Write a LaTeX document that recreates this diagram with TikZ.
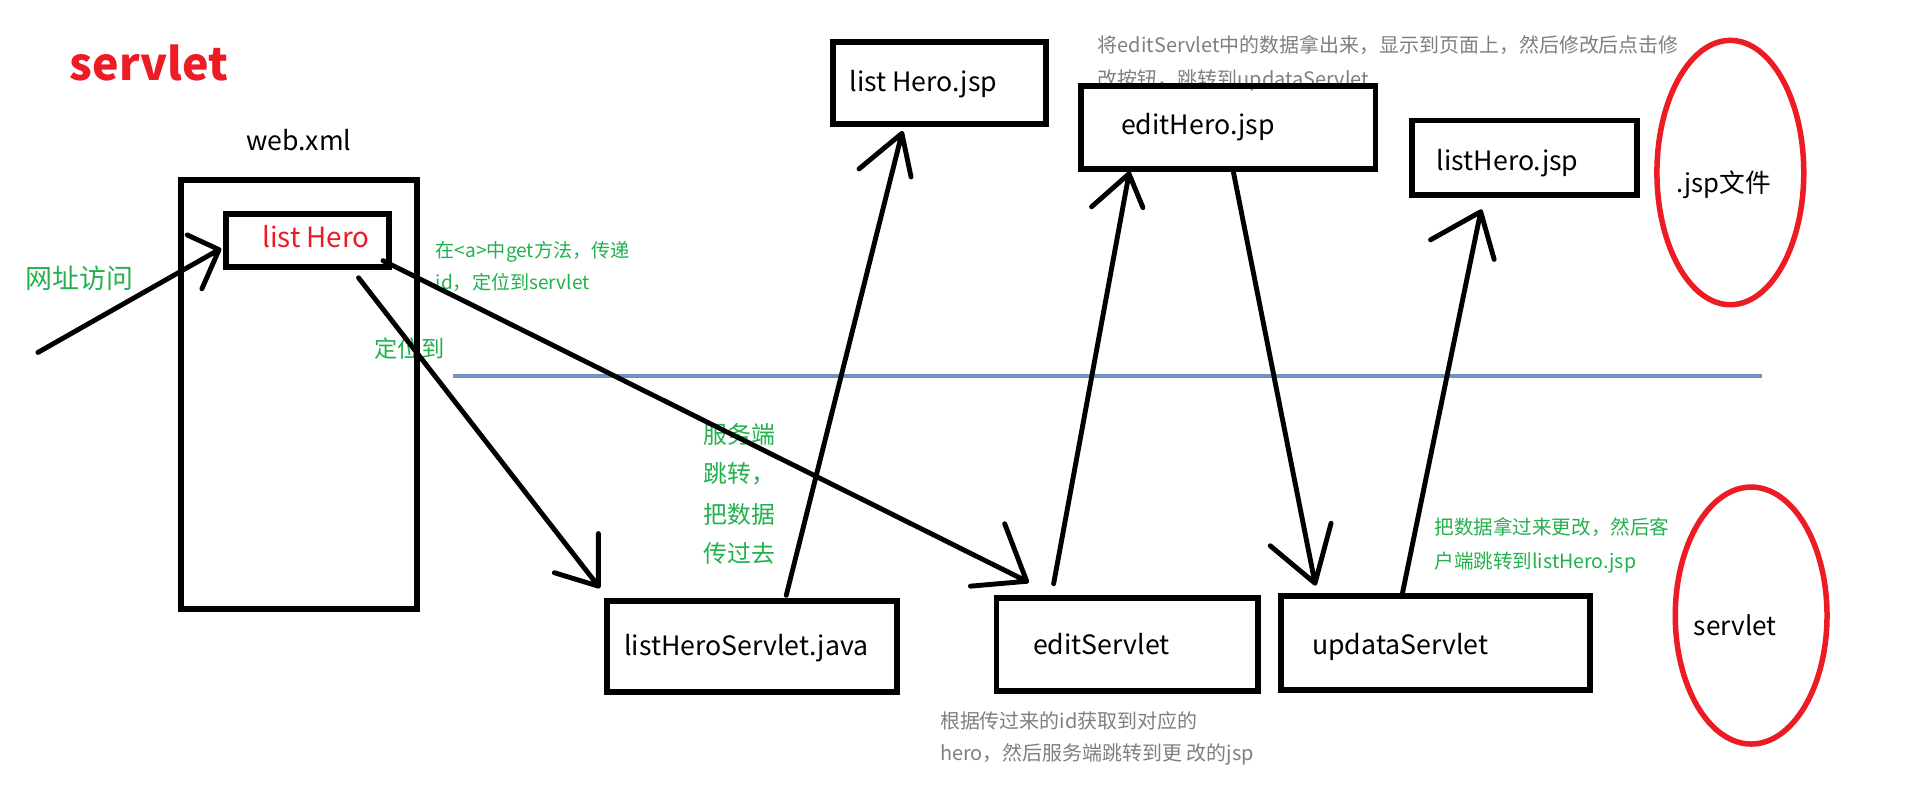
\documentclass[tikz,border=0pt]{standalone}
\usepackage{fontspec}
\setmainfont{Noto Sans CJK SC}
\usetikzlibrary{fit,shapes.geometric}
\definecolor{pred}{RGB}{237,28,36}
\definecolor{pgreen}{RGB}{34,177,76}
\definecolor{pgray}{RGB}{127,127,127}
\definecolor{pblue}{RGB}{112,146,190}
\tikzset{
  lbl/.style={inner sep=0pt, anchor=base west, font=\fontsize{21.8}{26}\selectfont},
  cjkline/.style={inner sep=0pt, anchor=west},
  greensmall/.style={cjkline, text=pgreen, font=\fontsize{16}{20}\selectfont},
  graysmall/.style={cjkline, text=pgray, font=\fontsize{16.3}{20}\selectfont},
  boxnode/.style={draw, line width=4.8pt, inner sep=0pt, rectangle},
  oval/.style={draw=pred, line width=4.5pt, ellipse, inner sep=0pt},
  arr/.style={line width=4pt, line cap=round, line join=round},
}
\begin{document}
\begin{tikzpicture}[x=1pt,y=-1pt]
\useasboundingbox (0,0) rectangle (1560,656);
\fill[white] (0,0) rectangle (1560,656);

% ---------- texts ----------
\node[inner sep=0pt, anchor=base west, text=pred, font=\bfseries\fontsize{36.5}{44}\selectfont] (title) at (57,66) {servlet};
\node[lbl] (webxml) at (201,123) {web.xml};
\node[lbl, text=pred, font=\fontsize{22.7}{26}\selectfont] (listHeroTxt) at (214,202) {list Hero};
\node[cjkline, text=pgreen, font=\fontsize{22}{26}\selectfont] (visit) at (21,227.5) {网址访问};
\node[greensmall, font=\fontsize{15.6}{18}\selectfont] (getA) at (356,205.5) {在<a>中get方法，传递};
\node[greensmall, font=\fontsize{15.6}{18}\selectfont] (getB) at (356,231) {id，定位到servlet};
\node[cjkline, text=pgreen, font=\fontsize{19}{22}\selectfont] (locate) at (306,284.5) {定位到};
\node[cjkline, text=pgreen, font=\fontsize{19.5}{22}\selectfont] (fwdA) at (575,355) {服务端};
\node[cjkline, text=pgreen, font=\fontsize{19.5}{22}\selectfont] (fwdB) at (575,387.5) {跳转，};
\node[cjkline, text=pgreen, font=\fontsize{19.5}{22}\selectfont] (fwdC) at (575,420) {把数据};
\node[cjkline, text=pgreen, font=\fontsize{19.5}{22}\selectfont] (fwdD) at (575,452.5) {传过去};
\node[graysmall] (editA) at (897,37) {将editServlet中的数据拿出来，显示到页面上，然后修改后点击修};
\node[graysmall] (editB) at (897,65.5) {改按钮，跳转到updataServlet};
\node[graysmall] (idA) at (768,589) {根据传过来的id获取到对应的};
\node[graysmall] (idB) at (768,616.5) {hero，然后服务端跳转到更 改的jsp};
\node[greensmall] (updA) at (1172,430.5) {把数据拿过来更改，然后客};
\node[greensmall] (updB) at (1172,459.5) {户端跳转到listHero.jsp};

\node[lbl] (listHeroJspTxt) at (694,75) {list Hero.jsp};
\node[lbl] (editHeroTxt) at (916,110) {editHero.jsp};
\node[lbl] (listHeroJsp2Txt) at (1174,139.5) {listHero.jsp};
\node[lbl, font=\fontsize{21}{26}\selectfont] (jspFileTxt) at (1370,157) {.jsp文件};
\node[lbl] (lhsTxt) at (510,536) {listHeroServlet.java};
\node[lbl] (editSTxt) at (844,535) {editServlet};
\node[lbl] (updSTxt) at (1072,535) {updataServlet};
\node[lbl, font=\fontsize{21.4}{26}\selectfont] (servletTxt) at (1384,519) {servlet};

% ---------- separator ----------
\coordinate (sepL) at (370,307);
\coordinate (sepR) at (1440,307);
\draw[pblue, line width=3.5pt] (sepL) -- (sepR);

% ---------- boxes ----------
\coordinate (w1) at (148,147);   \coordinate (w2) at (341,497.5);
\node[boxnode, fit=(w1)(w2)] (webBox) {};
\coordinate (l1) at (184.5,175); \coordinate (l2) at (318,218);
\node[boxnode, fit=(l1)(l2)] (listHeroBox) {};
\coordinate (j1) at (680.5,34);  \coordinate (j2) at (855,101.3);
\node[boxnode, fit=(j1)(j2)] (listHeroJspBox) {};
\coordinate (e1) at (883.5,70);  \coordinate (e2) at (1124,138);
\node[boxnode, fit=(e1)(e2)] (editHeroBox) {};
\coordinate (k1) at (1154,98.5); \coordinate (k2) at (1338,159.6);
\node[boxnode, fit=(k1)(k2)] (listHeroJsp2Box) {};
\coordinate (s1) at (496,491.4); \coordinate (s2) at (733,565.2);
\node[boxnode, fit=(s1)(s2)] (lhsBox) {};
\coordinate (t1) at (814.3,488.7); \coordinate (t2) at (1028,565);
\node[boxnode, fit=(t1)(t2)] (editSBox) {};
\coordinate (u1) at (1047,487.3); \coordinate (u2) at (1299,563.6);
\node[boxnode, fit=(u1)(u2)] (updSBox) {};

% ---------- ovals ----------
\node[oval, minimum width=120pt, minimum height=216pt] (jspOval) at (1414,141) {};
\node[oval, minimum width=124pt, minimum height=210pt] (servletOval) at (1431,503) {};

% ---------- connectors ----------
% URL access -> list Hero
\coordinate (a1s) at (31,288);   \coordinate (a1t) at (179,204);
\coordinate (a1l) at (153,192);  \coordinate (a1r) at (165,236);
\draw[arr] (a1s) -- (a1t) (a1l) -- (a1t) -- (a1r);
% list Hero -> listHeroServlet.java
\coordinate (a2s) at (293,227);  \coordinate (a2t) at (489,479);
\coordinate (a2l) at (489,436);  \coordinate (a2r) at (453,468);
\draw[arr] (a2s) -- (a2t) (a2l) -- (a2t) -- (a2r);
% list Hero -> editServlet
\coordinate (a3s) at (313,213);  \coordinate (a3t) at (839,475);
\coordinate (a3l) at (821,428);  \coordinate (a3r) at (793,479);
\draw[arr] (a3s) -- (a3t) (a3l) -- (a3t) -- (a3r);
% listHeroServlet.java -> list Hero.jsp
\coordinate (a4s) at (642.5,486.5); \coordinate (a4t) at (737,109);
\coordinate (a4l) at (702,138);     \coordinate (a4r) at (744.5,144.6);
\draw[arr] (a4s) -- (a4t) (a4l) -- (a4t) -- (a4r);
% editServlet -> editHero.jsp
\coordinate (a5s) at (861,477);  \coordinate (a5t) at (922.6,142);
\coordinate (a5l) at (892,169);  \coordinate (a5r) at (934,169.7);
\draw[arr] (a5s) -- (a5t) (a5l) -- (a5t) -- (a5r);
% editHero.jsp -> updataServlet
\coordinate (a6s) at (1008,141);   \coordinate (a6t) at (1074.6,476.6);
\coordinate (a6l) at (1038,446);   \coordinate (a6r) at (1087.7,427.6);
\draw[arr] (a6s) -- (a6t) (a6l) -- (a6t) -- (a6r);
% updataServlet -> listHero.jsp
\coordinate (a7s) at (1146,485);   \coordinate (a7t) at (1210,173);
\coordinate (a7l) at (1169,196);   \coordinate (a7r) at (1221,212);
\draw[arr] (a7s) -- (a7t) (a7l) -- (a7t) -- (a7r);
\end{tikzpicture}
\end{document}
